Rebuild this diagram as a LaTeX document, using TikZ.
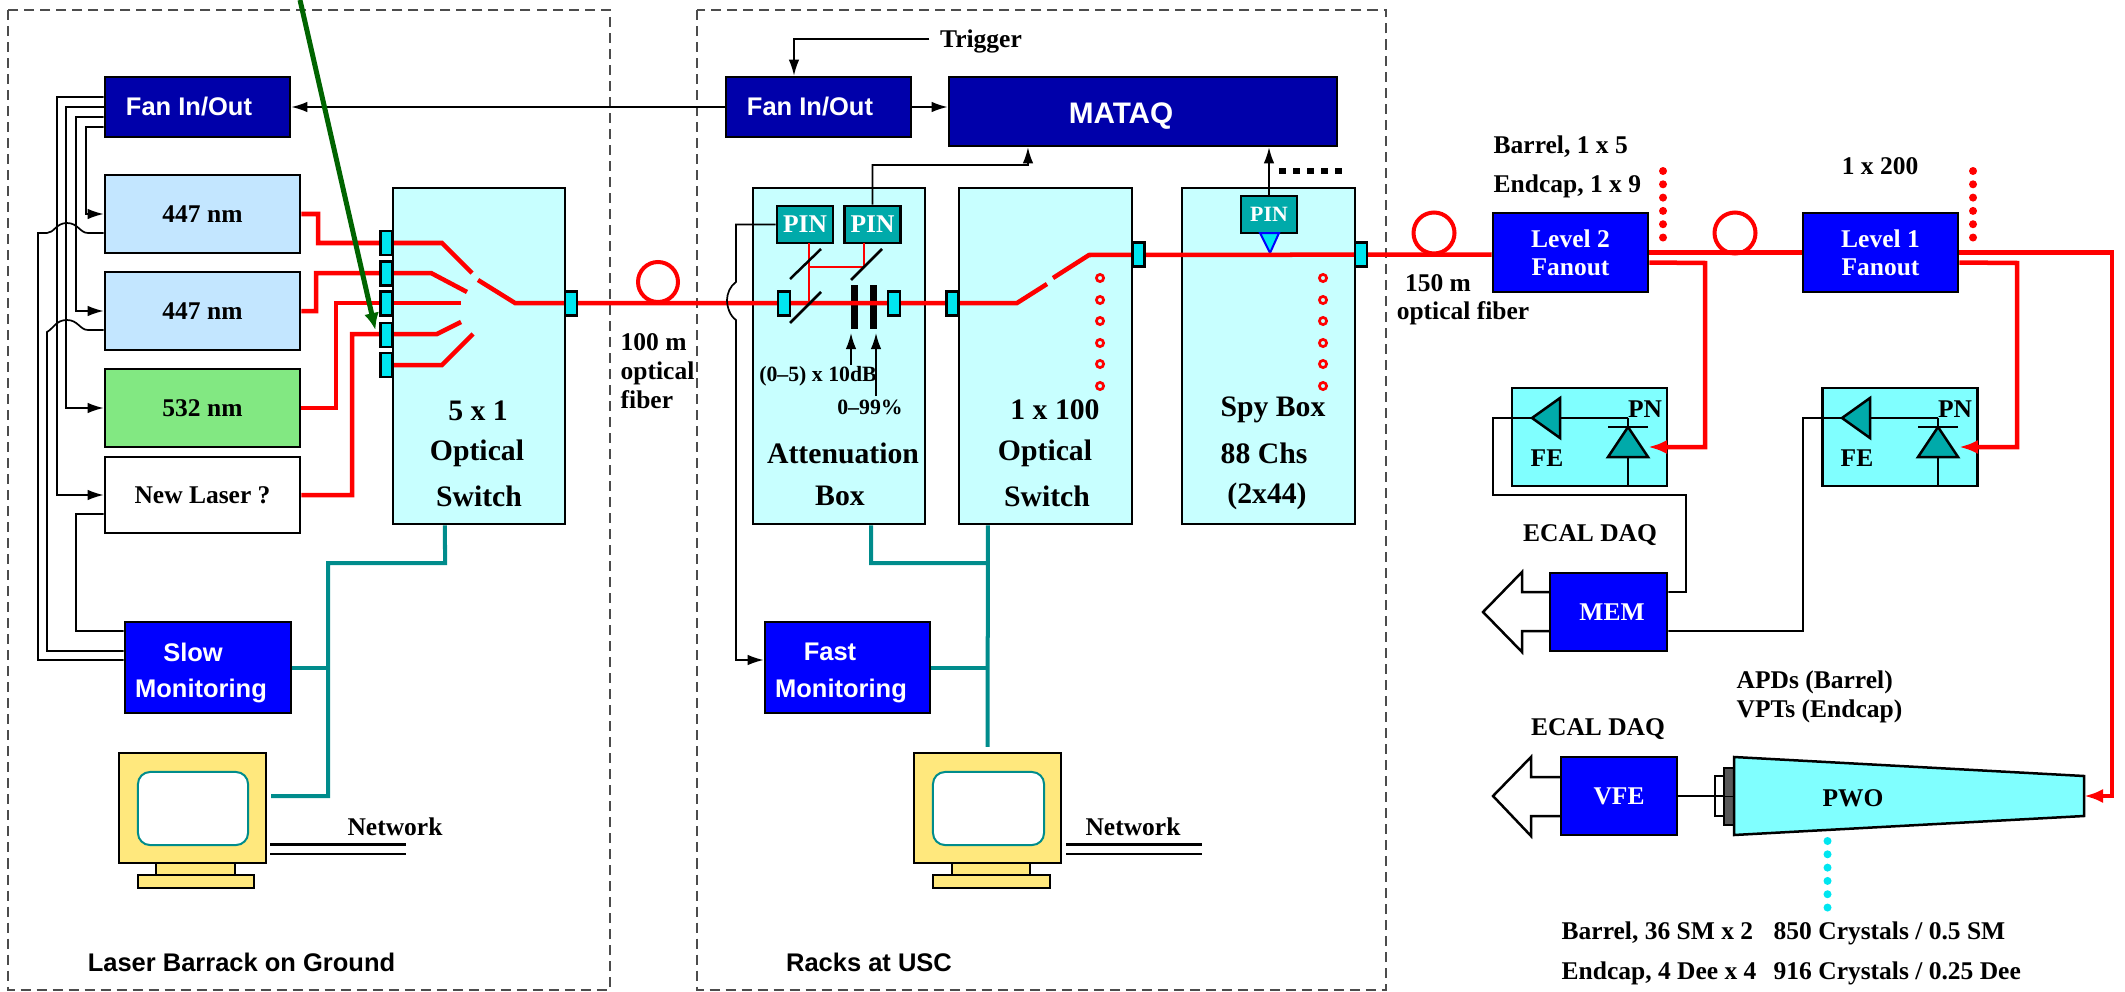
\documentclass[tikz,border=0pt]{standalone}
\usepackage{fontspec}
\setmainfont{Liberation Serif}
\setsansfont{Liberation Sans}
\usetikzlibrary{arrows.meta}

\definecolor{fannavy}{RGB}{0,0,170}
\definecolor{monblue}{RGB}{0,0,255}
\definecolor{laserblue}{RGB}{195,230,255}
\definecolor{lasergreen}{RGB}{130,232,130}
\definecolor{boxcyan}{RGB}{200,255,255}
\definecolor{fecyan}{RGB}{128,255,255}
\definecolor{portcyan}{RGB}{0,230,240}
\definecolor{pinteal}{RGB}{0,170,170}
\definecolor{netteal}{RGB}{0,140,140}
\definecolor{monyellow}{RGB}{255,232,125}
\definecolor{arrowgreen}{RGB}{0,100,0}

\pgfdeclarelayer{ports}
\pgfsetlayers{main,ports}

\tikzset{
  txt/.style={font=\bfseries\fontsize{7.25}{9}\selectfont, inner sep=0pt},
  bigtxt/.style={font=\bfseries\fontsize{8.45}{10}\selectfont, inner sep=0pt},
  tinytxt/.style={font=\bfseries\fontsize{6.2}{8}\selectfont, inner sep=0pt},
  sanstxt/.style={font=\sffamily\bfseries\fontsize{7.25}{9}\selectfont, inner sep=0pt},
  whitetxt/.style={sanstxt, text=white},
  box/.style={draw=black, line width=.25mm, inner sep=0pt, font=\bfseries\fontsize{7.25}{9}\selectfont},
  fan/.style={box, fill=fannavy},
  mon/.style={box, fill=monblue},
  laser/.style={box, minimum width=1.95cm, minimum height=.78cm},
  tallbox/.style={box, fill=boxcyan, minimum height=3.36cm},
  fanout/.style={box, fill=monblue, text=white, align=center, minimum width=1.55cm, minimum height=.79cm, font=\bfseries\fontsize{7.25}{8}\selectfont},
  febox/.style={box, fill=fecyan, minimum width=1.55cm, minimum height=.98cm},
  pin/.style={box, fill=pinteal, text=white, minimum width=.56cm, minimum height=.37cm},
  port/.style={draw=black, line width=.22mm, fill=portcyan, inner sep=0pt, minimum width=.12cm, minimum height=.24cm},
  monpart/.style={draw=black, line width=.22mm, fill=monyellow, inner sep=0pt},
  screen/.style={draw=netteal, line width=.2mm, fill=white, rounded corners=1.2mm, inner sep=0pt},
  fiber/.style={draw=red, line width=.45mm},
  redarrow/.style={fiber, -{Latex[length=1.9mm,width=1.4mm]}},
  thinfiber/.style={draw=red, line width=.2mm},
  wire/.style={draw=black, line width=.17mm},
  net/.style={draw=netteal, line width=.4mm},
  coil/.style={draw=red, line width=.4mm},
  ring/.style={draw=red, line width=.27mm},
  dashbox/.style={draw=black!70, line width=.2mm, dash pattern=on 1mm off .6mm},
  dotrow/.style={line cap=round, line width=.8mm, dash pattern=on 0pt off 1.33mm},
}

\begin{document}
\begin{tikzpicture}[x=0.01cm, y=-0.01cm, >={Latex[length=1.6mm,width=1.05mm]}]
\useasboundingbox (0,0) rectangle (2125,991);

% Dashed rooms
\draw[dashbox] (8,10) rectangle (610,990);
\draw[dashbox] (697,10) rectangle (1386,990);
\node[sanstxt] (roomL) at (241.5,962) {Laser Barrack on Ground};
\node[sanstxt] (roomM) at (869,962) {Racks at USC};

% LASER BARRACK

% Fan and lasers
\node[fan, minimum width=1.85cm, minimum height=.6cm] (fanL) at (197.5,107) {};
\node[whitetxt] (fanLtxt) at (189,107) {Fan In/Out};
\node[laser, fill=laserblue] (laserA) at (202.5,214) {447 nm};
\node[laser, fill=laserblue] (laserB) at (202.5,311) {447 nm};
\node[laser, fill=lasergreen] (laserC) at (202.5,408) {532 nm};
\node[laser, fill=white, minimum height=.76cm] (laserD) at (202.5,495) {New Laser ?};

% Switch box
\node[tallbox, minimum width=1.72cm] (swL) at (479,356) {};
\node[bigtxt] (swLa) at (478,411) {5 x 1};
\node[bigtxt] (swLb) at (477,453) {Optical};
\node[bigtxt] (swLc) at (479,496) {Switch};

% Fan outputs to lasers
\draw[wire, ->] ([yshift=.10cm]fanL.west) -- (57,97) -- (57,495) -- (laserD.west);
\draw[wire, ->] (fanL.west) -- (66,107) -- (66,408) -- (laserC.west);
\draw[wire, ->] ([yshift=-.10cm]fanL.west) -- (76,117) -- (76,311) -- (laserB.west);
\draw[wire, ->] ([yshift=-.20cm]fanL.west) -- (86,127) -- (86,214) -- (laserA.west);

% Slow monitoring
\node[mon, minimum width=1.66cm, minimum height=.91cm] (slow) at (208,667.5) {};
\node[whitetxt] (slowa) at (193,652) {Slow};
\node[whitetxt] (slowb) at (201,691) {Monitoring};

% Lasers back to slow monitoring
\draw[wire] ([yshift=-.19cm]laserA.west) -- (88,233) .. controls (80,233) and (78,223) .. (67,223) .. controls (56,223) and (54,233) .. (47,233) -- (38,233) -- (38,660) -- ([yshift=.075cm]slow.west);
\draw[wire] ([yshift=-.19cm]laserB.west) -- (88,330) .. controls (80,330) and (78,320) .. (67,320) .. controls (56,320) and (54,328) .. (47,332) -- (47,651) -- ([yshift=.165cm]slow.west);
\draw[wire] ([yshift=-.19cm]laserD.west) -- (76,514) -- (76,631) -- ([yshift=.365cm]slow.west);

% Ports of the switch
\begin{pgfonlayer}{ports}
\node[port] (port1) at (386.5,243) {};
\node[port] (port2) at (386.5,273.5) {};
\node[port] (port3) at (386.5,303.5) {};
\node[port] (port4) at (386.5,335) {};
\node[port] (port5) at (386.5,365) {};
\node[port] (portOut) at (571,303.5) {};
\end{pgfonlayer}

% Red fibers into the switch
\draw[fiber] (laserA.east) -- (318,214) -- (318,243) -- (442,243) -- (472,273);
\draw[fiber] (laserB.east) -- (316,311) -- (316,273) -- (431,273) -- (467,292);
\draw[fiber] (laserC.east) -- (336,408) -- (336,303) -- (461,303);
\draw[fiber] (laserD.east) -- (352,495) -- (352,334) -- (437,334) -- (461,322);
\draw[fiber] (port5.center) -- (442,365) -- (473,334);

% Network and monitor
\node[monpart, minimum width=1.47cm, minimum height=1.1cm] (monL) at (192.5,808) {};
\node[screen, minimum width=1.1cm, minimum height=.73cm] (scrL) at (193,808.5) {};
\node[monpart, minimum width=.79cm, minimum height=.12cm] (neckL) at (195.5,869) {};
\node[monpart, minimum width=1.16cm, minimum height=.13cm] (baseL) at (196,881.5) {};
\draw[net] ([xshift=-.34cm]swL.south) -- (445,563) -- (328,563) -- (328,796) -- ([xshift=.04cm,yshift=.12cm]monL.east);
\draw[net] (slow.east) -- (328,667.5);
\draw[black, line width=.3mm] (270,844) coordinate (netLa) -- (406,844);
\draw[black, line width=.15mm] (270,854) coordinate (netLb) -- (406,854);
\node[txt] (netLtxt) at (395,827) {Network};

% FIBER LEVELS

\node[fanout] (lvl2) at (1570.5,252.5) {Level 2\\Fanout};
\node[fanout] (lvl1) at (1880.5,252.5) {Level 1\\Fanout};

% RACKS

\node[fan, minimum width=1.85cm, minimum height=.6cm] (fanM) at (818.5,107) {};
\node[whitetxt] (fanMtxt) at (810,107) {Fan In/Out};
\node[fan, minimum width=3.88cm, minimum height=.69cm] (mataq) at (1143,111.5) {};
\node[whitetxt, font=\sffamily\bfseries\fontsize{8.45}{10}\selectfont] (mataqtxt) at (1121,116) {MATAQ};
\draw[wire, ->] (fanM.west) -- (fanL.east);
\draw[wire, ->] (fanM.east) -- (mataq.west |- fanM.east);
\node[txt] (trig) at (981,41) {Trigger};
\draw[wire, ->] ([xshift=-.1cm,yshift=.02cm]trig.west) -| ([xshift=-.245cm]fanM.north);

% Tall boxes
\node[tallbox, minimum width=1.72cm] (attBox) at (839,356) {};
\node[tallbox, minimum width=1.73cm] (optBox) at (1045.5,356) {};
\node[tallbox, minimum width=1.73cm] (spyBox) at (1268.5,356) {};

% Attenuation box
\node[pin] (pinA) at (805,224.5) {PIN};
\node[pin] (pinB) at (872.5,224.5) {PIN};
\node[pin, font=\bfseries\fontsize{6.2}{8}\selectfont] (pinC) at (1269,214.5) {PIN};
\draw[fill=portcyan, draw=monblue, line width=.2mm] (1260,233) -- (1279,233) -- (1270,253) -- cycle;
\draw[thinfiber] (809,243) -- (809,303);
\draw[thinfiber] (809,267) -- (864,267);
\draw[thinfiber] (864,243) -- (864,267);
\fill[black] (851,285) rectangle (858,329);
\fill[black] (870,285) rectangle (877,329);

\begin{pgfonlayer}{ports}
\node[port] (portAa) at (784,303.5) {};
\node[port] (portAb) at (894,303.5) {};
\node[port] (portB) at (952.5,303.5) {};
\node[port] (portC) at (1138.5,254.5) {};
\node[port] (portSpy) at (1361,254.5) {};
\end{pgfonlayer}

% Main fiber
\draw[fiber] (478,280) -- (515,303) -- (1017,303) -- (1047,284);
\draw[fiber] (1053,278) -- (1089,255) -- (portSpy.center -| lvl2.west);
\draw[coil] (658,282) circle (20);
\draw[coil] (1434,233) circle (20.5);
\draw[coil] (1735,233) circle (20.5);

\draw[wire, line width=.25mm] (790,323) -- (821,292);
\draw[wire, line width=.25mm] (790,279) -- (821,249);
\draw[wire, line width=.25mm] (851,280) -- (882,249);
\node[tinytxt] (attdB) at (818,376) {(0--5) x 10dB};
\node[tinytxt] (attPct) at (870,407) {0--99\%};
\draw[wire, ->] (851,365) -- (851,333);
\draw[wire, ->] (876,396) -- (876,333);
\node[bigtxt] (attTxta) at (843,453) {Attenuation};
\node[bigtxt] (attTxtb) at (840,496) {Box};
\node[txt, font=\bfseries\fontsize{7.25}{8.2}\selectfont, align=left, anchor=west] (fib100) at (620,371) {100 m\\optical\\fiber};

% PIN read out
\draw[wire, ->] (pinB.north) |- (1028,165) -- ([xshift=-1.15cm]mataq.south);
\draw[wire, ->] (pinC.north) -- (pinC.north |- mataq.south);
\draw[line width=.55mm, dash pattern=on .7mm off .7mm] (1279,171) coordinate (dotsA) -- (1346,171) coordinate (dotsB);

% Fast monitoring
\node[mon, minimum width=1.65cm, minimum height=.91cm] (fast) at (847.5,667.5) {};
\node[whitetxt] (fasta) at (830,652) {Fast};
\node[whitetxt] (fastb) at (841,691) {Monitoring};
\draw[wire, ->] (pinA.west) -- (736,224.5) -- (736,282) .. controls (730,286) and (727,294) .. (727,300) .. controls (727,307) and (730,316) .. (736,320) -- (736,660) -- ([yshift=.075cm]fast.west);

% Ring rows
\draw[ring] (1100,278) circle (3.6) (1100,300) circle (3.6) (1100,321) circle (3.6) (1100,343) circle (3.6) (1100,364) circle (3.6) (1100,386) circle (3.6);
\draw[ring] (1323,278) circle (3.6) (1323,300) circle (3.6) (1323,321) circle (3.6) (1323,343) circle (3.6) (1323,364) circle (3.6) (1323,386) circle (3.6);

% Box texts
\node[bigtxt] (optTxta) at (1055,410) {1 x 100};
\node[bigtxt] (optTxtb) at (1045,453) {Optical};
\node[bigtxt] (optTxtc) at (1047,496) {Switch};
\node[bigtxt] (spyTxta) at (1273,410) {Spy Box};
\node[bigtxt] (spyTxtb) at (1264,453) {88 Chs};
\node[bigtxt] (spyTxtc) at (1267,496) {(2x44)};

% Network and monitor
\node[monpart, minimum width=1.47cm, minimum height=1.1cm] (monM) at (987.5,808) {};
\node[screen, minimum width=1.11cm, minimum height=.73cm] (scrM) at (988.5,808.5) {};
\node[monpart, minimum width=.78cm, minimum height=.12cm] (neckM) at (991,869) {};
\node[monpart, minimum width=1.17cm, minimum height=.13cm] (baseM) at (991.5,881.5) {};
\draw[net] ([xshift=.32cm]attBox.south) -- (871,563) -- (988,563);
\draw[net] ([xshift=-.575cm]optBox.south) -- ([yshift=.05cm]monM.north);
\draw[net] (fast.east) -- (988,667.5);
\draw[black, line width=.3mm] (1066,844) coordinate (netMa) -- (1202,844);
\draw[black, line width=.15mm] (1066,854) coordinate (netMb) -- (1202,854);
\node[txt] (netMtxt) at (1133,827) {Network};

% RIGHT SIDE

\node[txt, anchor=west] (bar15) at (1493,147) {Barrel, 1 x 5};
\node[txt, anchor=west] (end19) at (1493,186) {Endcap, 1 x 9};
\node[txt] (lab200) at (1880,166) {1 x 200};
\node[txt] (fib150a) at (1438,283) {150 m};
\node[txt] (fib150b) at (1463,313) {optical fiber};
\draw[dotrow, red] (1663,171) coordinate (dotsC) -- (1663,240) coordinate (dotsD);
\draw[dotrow, red] (1973,171) coordinate (dotsE) -- (1973,240) coordinate (dotsF);

% FE boxes
\node[febox] (feA) at (1589.5,437) {};
\node[febox] (feB) at (1900,437) {};
\node[txt] (feAa) at (1547,458) {FE};
\node[txt] (feAb) at (1645,409) {PN};
\node[txt] (feBa) at (1857,458) {FE};
\node[txt] (feBb) at (1955,409) {PN};

% Left amplifier and diode
\coordinate (ampA) at (1532,418);
\draw[wire] (1628,418) -- (1628,427);
\draw[wire] (1628,457) -- (feA.south -| 1628,486);
\draw[wire, fill=pinteal, line width=.25mm] (ampA) -- (1560,398) -- (1560,438) -- cycle;
\draw[wire] (1560,418) -- (1628,418);
\draw[wire, line width=.25mm] (1608,427) -- (1648,427);
\draw[wire, fill=pinteal, line width=.25mm] (1628,427) -- (1608,457) -- (1648,457) -- cycle;

% Right amplifier and diode
\coordinate (ampB) at (1842,418);
\draw[wire] (1938,418) -- (1938,427);
\draw[wire] (1938,457) -- (feB.south -| 1938,486);
\draw[wire, fill=pinteal, line width=.25mm] (ampB) -- (1870,398) -- (1870,438) -- cycle;
\draw[wire] (1870,418) -- (1938,418);
\draw[wire, line width=.25mm] (1918,427) -- (1958,427);
\draw[wire, fill=pinteal, line width=.25mm] (1938,427) -- (1918,457) -- (1958,457) -- cycle;

% MEM
\node[txt] (daqA) at (1590,535) {ECAL DAQ};
\draw[wire, line width=.25mm, fill=white] (1550,592) -- (1522,592) -- (1522,572) -- (1483,612) -- (1522,652) -- (1522,631) -- (1550,631);
\node[mon, minimum width=1.17cm, minimum height=.78cm, text=white] (mem) at (1608.5,612) {\hspace*{.07cm}MEM};
\draw[wire] (ampA) -- (1493,418) -- (1493,495) -- (1686,495) -- (1686,592) -- ([yshift=.2cm]mem.east);
\draw[wire] (ampB) -- (1803,418) -- (1803,631) -- ([yshift=-.19cm]mem.east);

% VFE and crystal
\node[txt] (daqB) at (1598,729) {ECAL DAQ};
\draw[wire, line width=.25mm, fill=white] (1561,777) -- (1531,777) -- (1531,757) -- (1493,796) -- (1531,836) -- (1531,816) -- (1561,816);
\node[mon, minimum width=1.16cm, minimum height=.78cm, text=white] (vfe) at (1619,796) {VFE};
\node[draw=black, line width=.2mm, fill=white, minimum width=.09cm, minimum height=.4cm, inner sep=0pt] (apd) at (1719.5,796) {};
\node[draw=black, line width=.2mm, fill=black!65, minimum width=.1cm, minimum height=.57cm, inner sep=0pt] (cap) at (1729,796.5) {};
\draw[wire] (cap.west) -- (cap.east);
\draw[wire, line width=.25mm] (vfe.east) -- (apd.east);
\draw[wire, fill=fecyan, line width=.25mm] (1734,757) -- (2084,776) -- (2084,816) -- (1734,835) -- cycle;
\coordinate (pwoEnd) at (2084,796);
\node[txt] (pwo) at (1853,798) {PWO};
\node[txt, anchor=west] (apds) at (1736,682) {APDs (Barrel)};
\node[txt, anchor=west] (vpts) at (1736,711) {VPTs (Endcap)};
\draw[dotrow, portcyan] (1827.5,841) coordinate (dotsG) -- (1827.5,908) coordinate (dotsH);
\node[txt, anchor=west] (cntA) at (1561,933) {Barrel, 36 SM x 2};
\node[txt, anchor=west] (cntB) at (1773,933) {850 Crystals / 0.5 SM};
\node[txt, anchor=west] (cntC) at (1561,973) {Endcap, 4 Dee x 4};
\node[txt, anchor=west] (cntD) at (1773,973) {916 Crystals / 0.25 Dee};

% Red distribution
\draw[fiber] (lvl2.east) -- (lvl1.west);
\draw[redarrow] ([yshift=-.1cm]lvl2.east) -- (1705,263) -- (1705,447) -- (1648,447);
\draw[redarrow] ([yshift=-.1cm]lvl1.east) -- (2017,263) -- (2017,447) -- (1959,447);
\draw[redarrow] (lvl1.east) -- (2112,252.5) -- (2112,796) -- (pwoEnd);

% Pointer from above
\coordinate (topEnd) at (300,0);
\draw[draw=arrowgreen, line width=.5mm, -{Latex[length=1.7mm,width=1.5mm]}] (topEnd) -- ([xshift=-.04cm,yshift=.05cm]port4.west);

\end{tikzpicture}
\end{document}
